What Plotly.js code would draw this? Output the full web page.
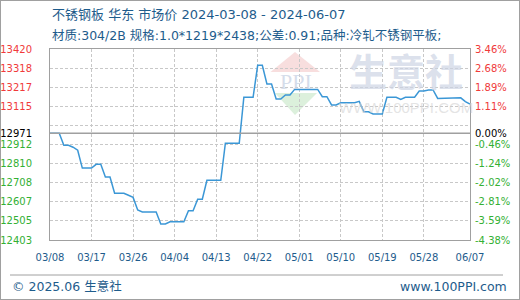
<!DOCTYPE html>
<html>
<head>
<meta charset="utf-8">
<script src="https://cdn.plot.ly/plotly-3.0.1.min.js"></script>
<style>
  html, body { margin: 0; padding: 0; background: #fff; }
  #chart { width: 518px; height: 298px; border: 1px solid #a0a0a0; }
</style>
</head>
<body>
<div id="chart"></div>
<script>
// ---- data ----
const dates = [
 '2024-03-08','2024-03-09','2024-03-10','2024-03-11','2024-03-12','2024-03-13','2024-03-14','2024-03-15','2024-03-16','2024-03-17',
 '2024-03-18','2024-03-19','2024-03-20','2024-03-21','2024-03-22','2024-03-23','2024-03-24','2024-03-25','2024-03-26','2024-03-27',
 '2024-03-28','2024-03-29','2024-03-30','2024-03-31','2024-04-01','2024-04-02','2024-04-03','2024-04-04','2024-04-05','2024-04-06',
 '2024-04-07','2024-04-08','2024-04-09','2024-04-10','2024-04-11','2024-04-12','2024-04-13','2024-04-14','2024-04-15','2024-04-16',
 '2024-04-17','2024-04-18','2024-04-19','2024-04-20','2024-04-21','2024-04-22','2024-04-23','2024-04-24','2024-04-25','2024-04-26',
 '2024-04-27','2024-04-28','2024-04-29','2024-04-30','2024-05-01','2024-05-02','2024-05-03','2024-05-04','2024-05-05','2024-05-06',
 '2024-05-07','2024-05-08','2024-05-09','2024-05-10','2024-05-11','2024-05-12','2024-05-13','2024-05-14','2024-05-15','2024-05-16',
 '2024-05-17','2024-05-18','2024-05-19','2024-05-20','2024-05-21','2024-05-22','2024-05-23','2024-05-24','2024-05-25','2024-05-26',
 '2024-05-27','2024-05-28','2024-05-29','2024-05-30','2024-05-31','2024-06-01','2024-06-02','2024-06-03','2024-06-04','2024-06-05',
 '2024-06-06','2024-06-07'
];
const prices = [
 12971,12971,12971,12907,12907,12897,12881,12786,12786,12786,
 12806,12806,12738,12738,12652,12652,12652,12641,12630,12563,
 12552,12552,12552,12552,12488,12488,12500,12500,12500,12500,
 12559,12559,12620,12620,12721,12721,12721,12721,12918,12918,
 12918,12918,13163,13163,13163,13333,13333,13234,13234,13154,
 13154,13175,13175,13205,13205,13205,13205,13205,13205,13166,
 13166,13122,13122,13134,13134,13134,13134,13141,13086,13086,
 13074,13074,13074,13163,13163,13163,13152,13163,13163,13163,
 13196,13196,13202,13202,13157,13157,13157,13160,13160,13160,
 13140,13127
];
const basePrice = 12971;
const xTickVals = ['2024-03-08','2024-03-17','2024-03-26','2024-04-04','2024-04-13','2024-04-22','2024-05-01','2024-05-10','2024-05-19','2024-05-28','2024-06-07'];
const xTickText = ['03/08','03/17','03/26','04/04','04/13','04/22','05/01','05/10','05/19','05/28','06/07'];
const yTickVals = [12403,12505,12607,12708,12810,12912,12971,13013,13115,13217,13318,13420];
const yTickText = ['12403','12505','12607','12708','12810','12912','12971','','13115','13217','13318','13420'];
const pctTickText = ['-4.38%','-3.59%','-2.81%','-2.02%','-1.24%','-0.46%','0.00%','','1.11%','1.89%','2.68%','3.46%'];
const title1 = '不锈钢板 华东 市场价 2024-03-08 - 2024-06-07';
const title2 = '材质:304/2B 规格:1.0*1219*2438;公差:0.91;品种:冷轧不锈钢平板;';
const footLeft = '© 2025.06 生意社';
const footRight = 'www.100PPI.com';

// ---- helpers ----
const RED = '#f03a3a', GREEN = '#33b033', BLUE = '#1e5c8c';
function colorFor(v){ return v > basePrice ? RED : (v < basePrice ? GREEN : '#000000'); }
function colored(vals, texts){ return texts.map((t,i)=> t ? '<span style="color:'+colorFor(vals[i])+'">'+t+'</span>' : ''); }
// plot area in page pixels: x 50..470, y 49..240
const PX0 = 50, PX1 = 470, PY0 = 49, PY1 = 240;
const px = x => (x - PX0) / (PX1 - PX0);
const py = y => (PY1 - y) / (PY1 - PY0);

const trace = {
  x: dates, y: prices, type: 'scatter', mode: 'lines',
  line: { color: '#3b97d6', width: 1.5 },
  hoverinfo: 'skip', showlegend: false
};
const trace2 = {
  x: dates, y: prices, type: 'scatter', mode: 'lines', yaxis: 'y2',
  line: { color: 'rgba(0,0,0,0)', width: 0 }, hoverinfo: 'skip', showlegend: false
};

const gridStyle = { showgrid: true, gridcolor: '#c8c8c8', griddash: '3px,2px', gridwidth: 1 };

const layout = {
  width: 518, height: 298,
  margin: { l: 49, r: 49, t: 48, b: 59, pad: 0 },
  paper_bgcolor: '#ffffff', plot_bgcolor: '#ffffff',
  showlegend: false,
  xaxis: Object.assign({
    type: 'date', range: [dates[0], dates[dates.length-1]],
    tickmode: 'array', tickvals: xTickVals, ticktext: xTickText,
    ticks: 'outside', ticklen: 0, ticklabelstandoff: 8,
    tickfont: { family: 'DejaVu Sans', size: 10, color: BLUE },
    showline: true, linecolor: '#a0a0a0', linewidth: 1, mirror: true,
    zeroline: false, fixedrange: true
  }, gridStyle),
  yaxis: Object.assign({
    range: [12403, 13420],
    tickmode: 'array', tickvals: yTickVals, ticktext: colored(yTickVals, yTickText),
    ticks: 'outside', ticklen: 0, ticklabelstandoff: 15,
    tickfont: { family: 'DejaVu Sans', size: 10, color: '#000' },
    showline: true, linecolor: '#a0a0a0', linewidth: 1, mirror: true,
    zeroline: false, fixedrange: true
  }, gridStyle),
  yaxis2: {
    overlaying: 'y', side: 'right', anchor: 'x',
    range: [12403, 13420],
    tickmode: 'array', tickvals: yTickVals, ticktext: colored(yTickVals, pctTickText),
    ticks: 'outside', ticklen: 0, ticklabelstandoff: 2,
    tickfont: { family: 'DejaVu Sans', size: 10, color: '#000' },
    showgrid: false, showline: false, zeroline: false, fixedrange: true
  },
  shapes: [
    // baseline at the base price
    { type: 'line', xref: 'paper', yref: 'y', x0: 0, x1: 1, y0: basePrice, y1: basePrice,
      line: { color: '#a0a0a0', width: 1.5 } },
    // footer separator
    { type: 'line', xref: 'paper', yref: 'paper', x0: px(10), x1: px(503), y0: py(275), y1: py(275),
      line: { color: '#a0a0a0', width: 1 } },
    // watermark logo triangles
    { type: 'path', xref: 'paper', yref: 'paper', layer: 'below',
      path: 'M '+px(295)+' '+py(52)+' L '+px(270.5)+' '+py(72)+' L '+px(320)+' '+py(72)+' Z',
      fillcolor: '#f8dede', line: { width: 0 } },
    { type: 'path', xref: 'paper', yref: 'paper', layer: 'below',
      path: 'M '+px(275)+' '+py(93)+' L '+px(317)+' '+py(93)+' L '+px(295)+' '+py(115)+' Z',
      fillcolor: '#dcf0dc', line: { width: 0 } }
  ],
  annotations: [
    { text: title1, xref: 'paper', yref: 'paper', x: px(50), y: py(15), xanchor: 'left', yanchor: 'middle',
      showarrow: false, font: { family: 'DejaVu Sans, Noto Sans CJK SC', size: 13, color: BLUE } },
    { text: title2, xref: 'paper', yref: 'paper', x: px(50), y: py(35.5), xanchor: 'left', yanchor: 'middle',
      showarrow: false, font: { family: 'DejaVu Sans, Noto Sans CJK SC', size: 12.5, color: BLUE } },
    { text: footLeft, xref: 'paper', yref: 'paper', x: px(10), y: py(286), xanchor: 'left', yanchor: 'middle',
      showarrow: false, font: { family: 'DejaVu Sans, Noto Sans CJK SC', size: 12.5, color: BLUE } },
    { text: footRight, xref: 'paper', yref: 'paper', x: px(509), y: py(286), xanchor: 'right', yanchor: 'middle',
      showarrow: false, font: { family: 'DejaVu Sans', size: 12.5, color: BLUE } },
    // watermark texts
    { text: 'PPI', xref: 'paper', yref: 'paper', x: px(296), y: py(81), xanchor: 'center', yanchor: 'middle',
      showarrow: false, font: { family: 'Liberation Serif', size: 22, color: 'rgba(200,210,228,0.75)' } },
    { text: '<b>生意社</b>', xref: 'paper', yref: 'paper', x: px(406), y: py(70), xanchor: 'center', yanchor: 'middle',
      showarrow: false, borderpad: 0, font: { family: 'Noto Sans CJK SC', size: 38, color: 'rgba(205,212,228,0.7)' } },
    { text: 'WWW.100PPI.COM', xref: 'paper', yref: 'paper', x: px(406), y: py(107), xanchor: 'center', yanchor: 'middle',
      showarrow: false, borderpad: 0, font: { family: 'Liberation Sans', size: 15, color: 'rgba(210,210,210,0.6)' } }
  ]
};

Plotly.newPlot('chart', [trace, trace2], layout, { staticPlot: true, displayModeBar: false });
</script>
</body>
</html>
